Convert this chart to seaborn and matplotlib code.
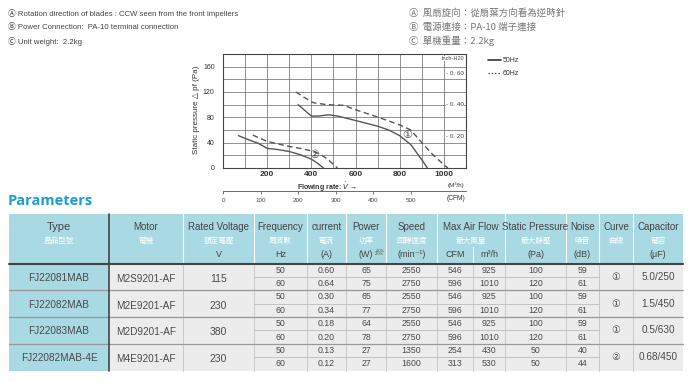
import pandas as pd
import seaborn as sns
import matplotlib.pyplot as plt
from matplotlib import font_manager
from matplotlib.patches import Rectangle

# fan curves (flow in m3/h, static pressure in Pa)
c1_50_flow = [340, 370, 400, 430, 480, 520, 600, 700, 750, 800, 850, 900, 925]
c1_50_pa = [100, 91, 82, 82, 84, 82, 75, 66, 60, 51, 37, 13, 0]
c1_60_flow = [330, 370, 410, 470, 546, 600, 700, 800, 850, 900, 950, 1000, 1018]
c1_60_pa = [120, 111, 103, 100, 99, 92, 80.5, 68, 60, 40, 21, 5, 0]
c2_50_flow = [70, 120, 160, 200, 250, 300, 350, 400, 430, 455]
c2_50_pa = [51, 44, 39, 31, 29, 26, 21, 14, 7, 0]
c2_60_flow = [135, 160, 200, 250, 300, 350, 400, 440, 480, 518]
c2_60_pa = [52, 48, 42, 38, 34, 31, 27, 22, 12, 0]
inch_h2o = [0.20, 0.40, 0.60]
cfm_ticks = [0, 100, 200, 300, 400, 500]

# parameters table
models = ['FJ22081MAB', 'FJ22082MAB', 'FJ22083MAB', 'FJ22082MAB-4E']
motors = ['M2S9201-AF', 'M2E9201-AF', 'M2D9201-AF', 'M4E9201-AF']
voltages = ['115', '230', '380', '230']
freqs = ['50', '60']
currents = [['0.60', '0.64'], ['0.30', '0.34'], ['0.18', '0.20'], ['0.13', '0.12']]
powers = [['65', '75'], ['65', '77'], ['64', '78'], ['27', '27']]
speeds = [['2550', '2750'], ['2550', '2750'], ['2550', '2750'], ['1350', '1600']]
flow_cfm = [['546', '596'], ['546', '596'], ['546', '596'], ['254', '313']]
flow_m3h = [['925', '1010'], ['925', '1010'], ['925', '1010'], ['430', '530']]
pressures = [['100', '120'], ['100', '120'], ['100', '120'], ['50', '50']]
noises = [['59', '61'], ['59', '61'], ['59', '61'], ['40', '44']]
curve_ids = ['①', '①', '①', '②']
capacitors = ['5.0/250', '1.5/450', '0.5/630', '0.68/450']

head_en = ['Type', 'Motor', 'Rated Voltage', 'Frequency', 'current', 'Power', 'Speed',
           'Max Air Flow', 'Static Pressure', 'Noise', 'Curve', 'Capacitor']
head_zh = ['產品型號', '電機', '額定電壓', '周波數', '電流', '功率', '回轉速度',
           '最大風量', '最大靜壓', '噪音', '曲線', '電容']
head_unit = ['', '', 'V', 'Hz', '(A)', '(W)', '(min⁻¹)', '', '(Pa)', '(dB)', '', '(μF)']

notes_en = ['Ⓐ Rotation direction of blades : CCW seen from the front impellers',
            'Ⓑ Power Connection:  PA-10 terminal connection',
            'Ⓒ Unit weight:  2.2kg']
notes_zh = ['Ⓐ  風扇旋向：從扇葉方向看為逆時針',
            'Ⓑ  電源連接：PA-10 端子連接',
            'Ⓒ  單機重量：2.2kg']

sns.set_style("white")
names = {f.name for f in font_manager.fontManager.ttflist}
narrow = "Liberation Sans Narrow" if "Liberation Sans Narrow" in names else "Liberation Sans"
cjk = "Noto Sans CJK TC"
plt.rcParams['font.family'] = [narrow, 'DejaVu Sans', cjk]
zh_font = [cjk, 'DejaVu Sans']

W, H = 692, 382
fig = plt.figure(figsize=(W / 100, H / 100), dpi=100)

ov = fig.add_axes([0, 0, 1, 1])
ov.set_xlim(0, W)
ov.set_ylim(H, 0)
ov.axis('off')

ax = fig.add_axes([223 / W, 1 - 168 / H, 243 / W, 114 / H])

rows = []
for name, flow, pa in [('1-50', c1_50_flow, c1_50_pa), ('1-60', c1_60_flow, c1_60_pa),
                       ('2-50', c2_50_flow, c2_50_pa), ('2-60', c2_60_flow, c2_60_pa)]:
    for f, p in zip(flow, pa):
        rows.append({'flow': f, 'pa': p, 'curve': name, 'freq': name[2:] + 'Hz'})
df = pd.DataFrame(rows)

sns.lineplot(data=df, x='flow', y='pa', units='curve', style='freq', estimator=None,
             sort=False, color='#555555', linewidth=1.0,
             dashes={'50Hz': '', '60Hz': (4, 2.5)}, legend=False, ax=ax)

ax.set_xlim(0, 1100)
ax.set_ylim(0, 180)
ax.set_xticks(range(200, 1001, 200))
ax.set_xticks(range(100, 1001, 100), minor=True)
ax.set_yticks(range(0, 161, 40))
ax.set_yticks(range(20, 180, 20), minor=True)
ax.grid(which='both', color='#666666', linewidth=0.5)
ax.tick_params(which='both', length=0)
ax.tick_params(axis='y', labelsize=5, pad=6, labelcolor='#333333')
ax.tick_params(axis='x', labelsize=6, pad=2.5, labelcolor='#333333')
for lab in ax.get_xticklabels():
    lab.set_fontweight('bold')
for sp in ax.spines.values():
    sp.set_color('#444444')
    sp.set_linewidth(0.8)
ax.set_xlabel('')
ax.set_ylabel('Static pressure △ pf (Pa)', fontsize=5.8, color='#333333')
ax.yaxis.set_label_coords(-0.095, 0.51)

for v in inch_h2o:
    ax.text(1010, v * 249.09, '- ' + f'{v:.2f}'.replace('.', '. '), fontsize=4.5,
            color='#444444', ha='left', va='center',
            bbox=dict(facecolor='white', edgecolor='none', pad=0.3))
ax.text(1090, 173, 'Inch-H20', fontsize=4, color='#444444', ha='right', va='center',
        bbox=dict(facecolor='white', edgecolor='none', pad=0.3))
ax.text(833, 51.5, '①', fontsize=8, color='#444444', ha='center', va='center',
        family=['DejaVu Sans', cjk])
ax.text(413, 21, '②', fontsize=8, color='#444444', ha='center', va='center',
        family=['DejaVu Sans', cjk])

sec = ax.secondary_xaxis(-0.206, functions=(lambda x: x / 1.699, lambda c: c * 1.699))
sec.set_xticks(cfm_ticks)
sec.tick_params(labelsize=4.5, length=2.5, width=0.5, pad=2, colors='#444444')
sec.spines['bottom'].set_linewidth(0.6)
sec.spines['bottom'].set_color('#555555')

ov.text(327, 187, r'Flowing rate: $\dot{V}$ →', fontsize=5, fontweight='bold',
        color='#333333', ha='center', va='center')
ov.text(456, 185, '(M³/h)', fontsize=4.5, color='#333333', ha='center', va='center')
ov.text(456, 198, '(CFM)', fontsize=4.8, color='#333333', ha='center', va='center')

# legend
ov.plot([488, 501], [60, 60], color='#333333', lw=1.2)
ov.text(502.5, 60, '50Hz', fontsize=5, color='#333333', va='center')
ov.plot([488, 501], [73.3, 73.3], color='#333333', lw=0.9, ls=':')
ov.text(502.5, 73.3, '60Hz', fontsize=5, color='#333333', va='center')

# notes
for i, t in enumerate(notes_en):
    ov.text(8, 14 + i * 13.5, t, fontsize=5.6, color='#444444', va='center',
            family=[narrow, 'DejaVu Sans', cjk])
for i, t in enumerate(notes_zh):
    ov.text(409, 13 + i * 14, t, fontsize=6.8, color='#777777', va='center', family=zh_font)

ov.text(8, 201, 'Parameters', fontsize=10.5, fontweight='bold', color='#1F9BD7',
        va='center', family=['Open Sans', 'DejaVu Sans'])

# table
teal = '#A9D9E2'
grey = '#ECECEC'
cols = [9, 109, 183, 254, 307, 346, 386, 437, 473, 505, 566, 599, 633, 683]
hcols = [9, 109, 183, 254, 307, 346, 386, 437, 505, 566, 599, 633, 683]
top, hb = 213.5, 263.5
rh = 26.75
bottom = hb + 4 * rh
txt = '#4a4a4a'

ov.add_patch(Rectangle((cols[0], top), cols[-1] - cols[0], hb - top, color=teal, lw=0))
ov.add_patch(Rectangle((cols[0], hb), cols[1] - cols[0], bottom - hb, color=teal, lw=0))
ov.add_patch(Rectangle((cols[1], hb), cols[-1] - cols[1], bottom - hb, color=grey, lw=0))

for i in range(12):
    cx = (hcols[i] + hcols[i + 1]) / 2
    ov.text(cx, 226.5, head_en[i], fontsize=8 if i == 0 else 7, color='#444444',
            ha='center', va='center')
    ov.text(cx, 240.5, head_zh[i], fontsize=5.5, color='white', ha='center',
            va='center', family=zh_font)
    if head_unit[i]:
        ov.text(cx, 254.5, head_unit[i], fontsize=6.5, color='#444444', ha='center',
                va='center', family=[narrow, 'DejaVu Sans'])
    if i > 1:
        ov.plot([hcols[i], hcols[i]], [top, hb], color='white', lw=0.8)
ov.text(455, 254.5, 'CFM', fontsize=6.5, color='#444444', ha='center', va='center')
ov.text(489, 254.5, 'm³/h', fontsize=6.5, color='#444444', ha='center', va='center')
ov.plot([473, 473], [247, hb], color='white', lw=0.8)
ov.text(375, 252.5, '+10%\n-20%', fontsize=2.8, color='#444444', ha='left',
        va='center', linespacing=0.9)

# body grid
for x in cols[2:-1]:
    ov.plot([x, x], [hb, bottom], color='#c4c4c4', lw=0.6)
for g in range(1, 4):
    y = hb + g * rh
    ov.plot([cols[0], cols[-1]], [y, y], color='#999999', lw=0.9)
for g in range(4):
    y = hb + g * rh + rh / 2
    ov.plot([cols[3], cols[11]], [y, y], color='#bdbdbd', lw=0.6)

for g in range(4):
    y0 = hb + g * rh
    mid = y0 + rh / 2
    ov.text((cols[0] + cols[1]) / 2, mid + 1, models[g], fontsize=7.2, color=txt,
            ha='center', va='center')
    ov.text((cols[1] + cols[2]) / 2, mid + 2, motors[g], fontsize=7.2, color=txt,
            ha='center', va='center')
    ov.text((cols[2] + cols[3]) / 2, mid + 2, voltages[g], fontsize=7.5, color=txt,
            ha='center', va='center')
    ov.text((cols[11] + cols[12]) / 2, mid, curve_ids[g], fontsize=7, color=txt,
            ha='center', va='center', family=['DejaVu Sans', cjk])
    ov.text((cols[12] + cols[13]) / 2, mid, capacitors[g], fontsize=7.2, color=txt,
            ha='center', va='center')
    for s in range(2):
        ys = y0 + rh / 4 + s * rh / 2
        vals = [freqs[s], currents[g][s], powers[g][s], speeds[g][s], flow_cfm[g][s],
                flow_m3h[g][s], pressures[g][s], noises[g][s]]
        for k, v in enumerate(vals):
            cx = (cols[3 + k] + cols[4 + k]) / 2
            ov.text(cx, ys, v, fontsize=6.3, color=txt, ha='center', va='center')

ov.plot([cols[0], cols[-1]], [hb, hb], color='#444444', lw=1.5)
ov.plot([cols[1], cols[1]], [top, bottom], color='#444444', lw=1.2)

fig.savefig('out.png', dpi=100)
